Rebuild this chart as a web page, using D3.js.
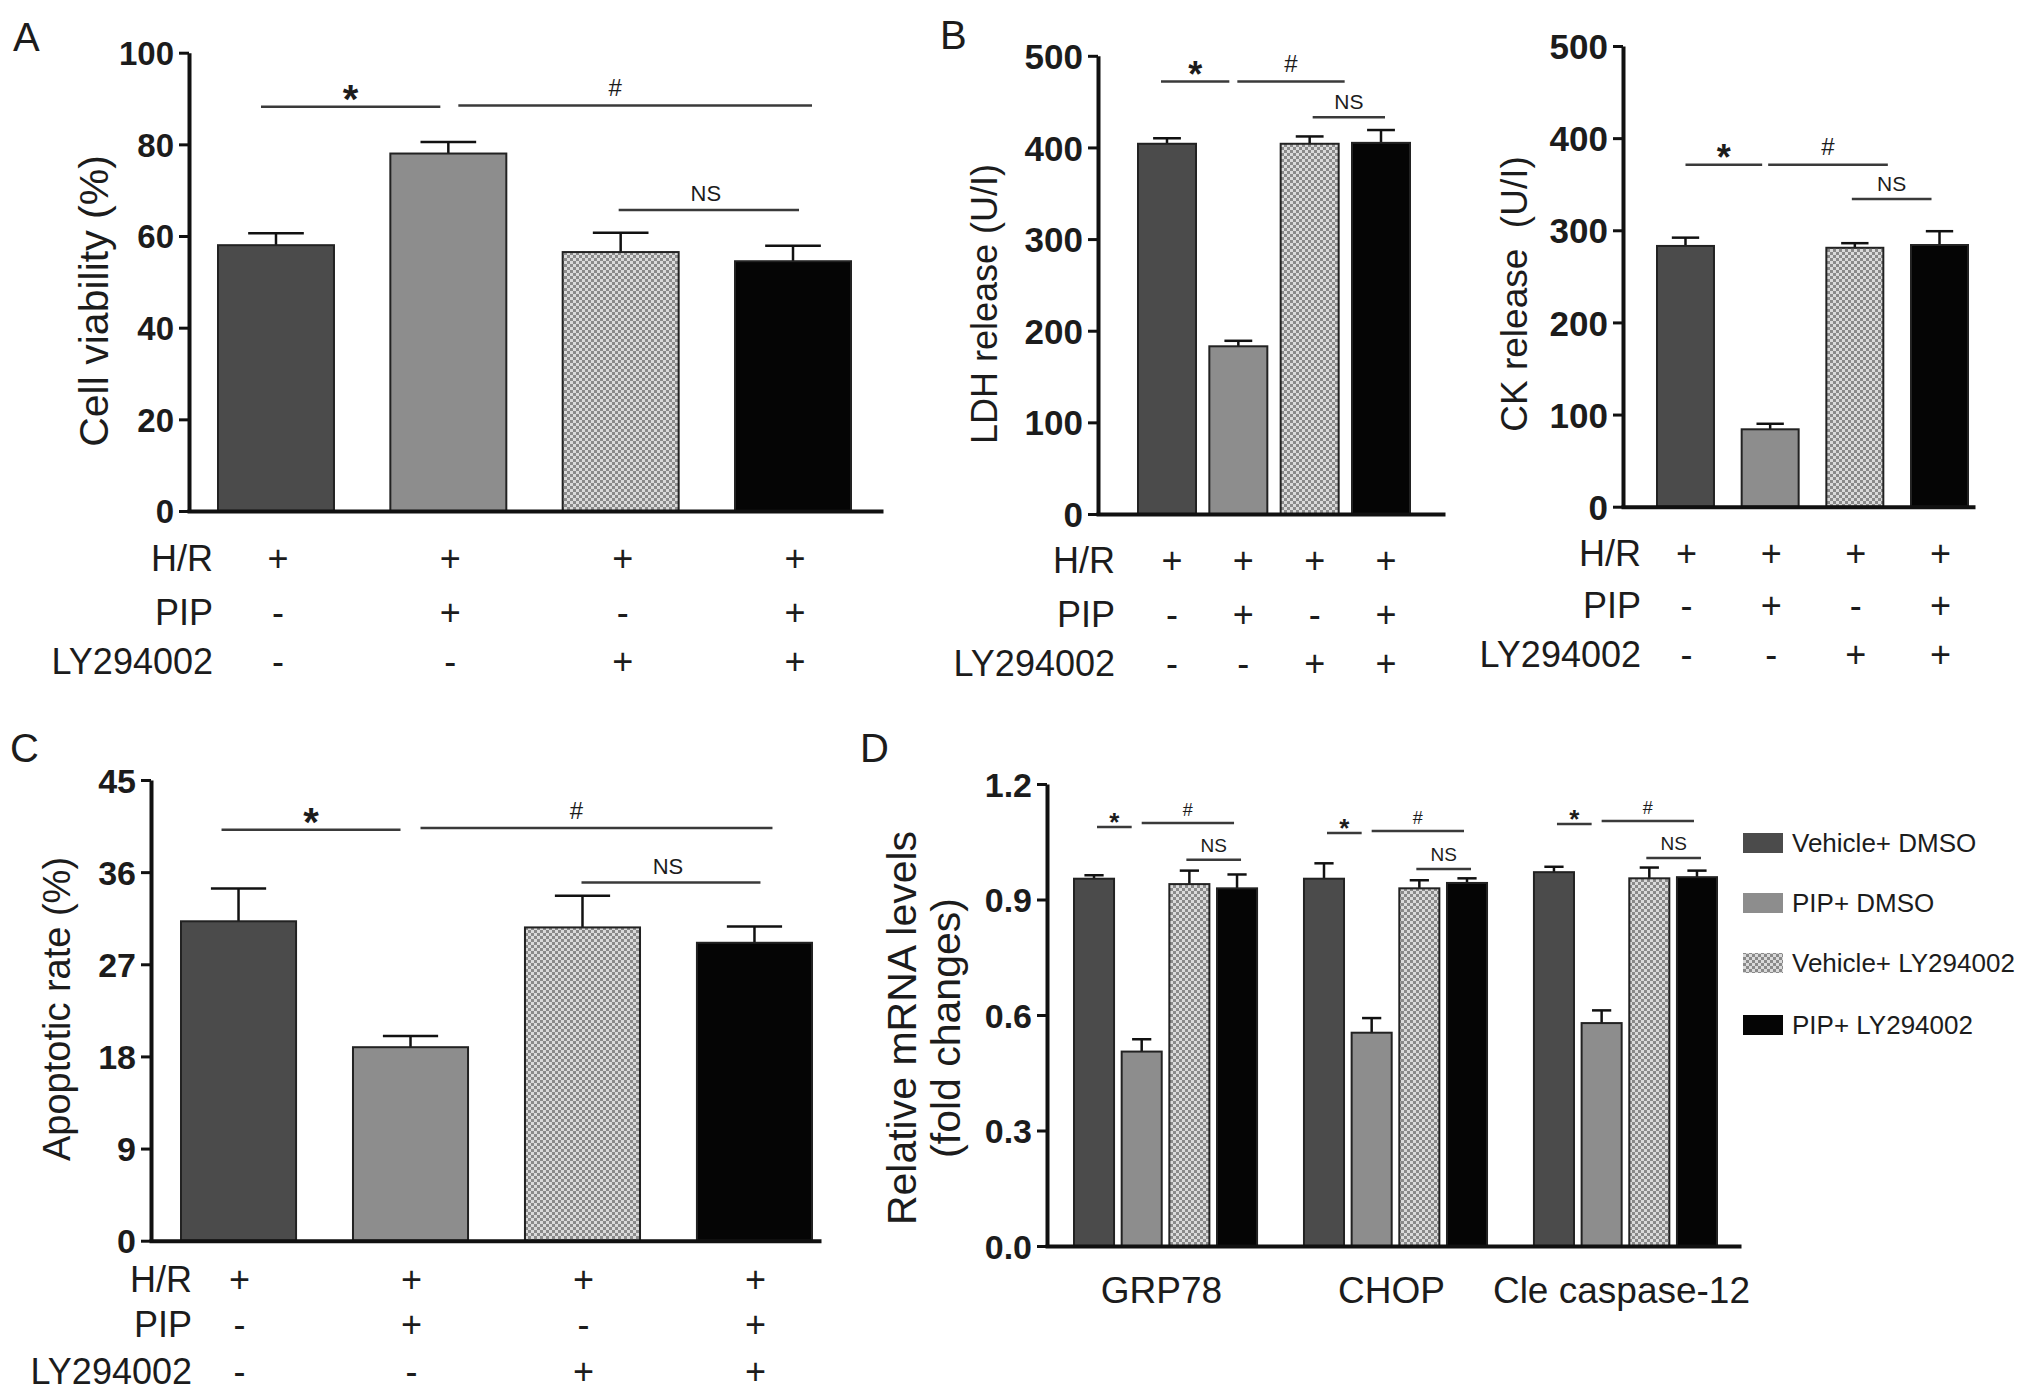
<!DOCTYPE html>
<html>
<head>
<meta charset="utf-8">
<script src="https://cdn.jsdelivr.net/npm/d3@7"></script>
<style>
  body { margin: 0; background: #fff; }
  svg { display: block; }
  text { font-family: "Liberation Sans", Arial, sans-serif; fill: #1c1c1c; }
</style>
</head>
<body>
<svg id="fig"></svg>
<script>
// treatment rows under panels A-C
const rowNames = ["H/R", "PIP", "LY294002"];
const hrSigns = ["+", "+", "+", "+"];
const pipSigns = ["-", "+", "-", "+"];
const lySigns = ["-", "-", "+", "+"];

// A: cell viability (%)
const viability = [58, 78, 56.5, 54.5];
const viabilityErr = [2.6, 2.5, 4.2, 3.4];
// B: LDH and CK release (U/l)
const ldh = [404, 183, 404, 405];
const ldhErr = [6, 6, 8, 14];
const ck = [283, 84, 281, 284];
const ckErr = [9, 6, 5, 15];
// C: apoptotic rate (%)
const apoptosis = [31.2, 18.9, 30.6, 29.1];
const apoptosisErr = [3.2, 1.1, 3.1, 1.6];

// D: relative mRNA levels
const genes = ["GRP78", "CHOP", "Cle caspase-12"];
const treatments = ["Vehicle+ DMSO", "PIP+ DMSO", "Vehicle+ LY294002", "PIP+ LY294002"];
const mrnaGRP78 = [0.954, 0.505, 0.940, 0.929];
const mrnaGRP78Err = [0.009, 0.032, 0.035, 0.036];
const mrnaCHOP = [0.954, 0.554, 0.929, 0.943];
const mrnaCHOPErr = [0.040, 0.038, 0.021, 0.012];
const mrnaCle = [0.971, 0.579, 0.955, 0.958];
const mrnaCleErr = [0.014, 0.033, 0.028, 0.017];

// significance marks: bar indices and height in data units
const sigA = [
  { from: 0, to: 1, y: 88.2, label: "*" },
  { from: 1, to: 3, y: 88.5, label: "#" },
  { from: 2, to: 3, y: 65.7, label: "NS" }
];
const sigLDH = [
  { from: 0, to: 1, y: 472, label: "*" },
  { from: 1, to: 2, y: 472, label: "#" },
  { from: 2, to: 3, y: 433, label: "NS" }
];
const sigCK = [
  { from: 0, to: 1, y: 371, label: "*" },
  { from: 1, to: 2, y: 371, label: "#" },
  { from: 2, to: 3, y: 334, label: "NS" }
];
const sigC = [
  { from: 0, to: 1, y: 40.15, label: "*" },
  { from: 1, to: 3, y: 40.3, label: "#" },
  { from: 2, to: 3, y: 35.0, label: "NS" }
];
const sigD = [
  [1.088, 1.099, 1.003],
  [1.073, 1.078, 0.979],
  [1.096, 1.104, 1.008]
];

const fills = ["#4b4b4b", "#8d8d8d", "url(#checker)", "#050505"];
const signRows = [hrSigns, pipSigns, lySigns];

const svg = d3.select("#fig").attr("width", 2031).attr("height", 1396);

const defs = svg.append("defs");
const pat = defs.append("pattern")
  .attr("id", "checker")
  .attr("patternUnits", "userSpaceOnUse")
  .attr("width", 6)
  .attr("height", 6);
pat.append("rect").attr("width", 6).attr("height", 6).attr("fill", "#dadada");
pat.append("rect").attr("width", 3).attr("height", 3).attr("fill", "#8a8a8a");
pat.append("rect").attr("x", 3).attr("y", 3).attr("width", 3).attr("height", 3).attr("fill", "#8a8a8a");

function styleAxis(sel, fontSize) {
  sel.attr("font-family", null).attr("font-size", null);
  sel.select(".domain").attr("stroke", "#111").attr("stroke-width", 4);
  sel.selectAll(".tick line").attr("stroke", "#111").attr("stroke-width", 3);
  sel.selectAll(".tick text")
    .attr("fill", "#111")
    .style("font-size", fontSize + "px")
    .style("font-weight", "bold")
    .attr("dy", "0.36em");
}

function drawAxes(g, cfg, y) {
  g.append("g")
    .attr("transform", `translate(0,${y(0)})`)
    .call(d3.axisBottom(d3.scaleLinear().range([cfg.axisX - 2, cfg.xEnd])).tickValues([]).tickSizeOuter(0))
    .call(s => styleAxis(s, cfg.tickFont));

  g.append("g")
    .attr("transform", `translate(${cfg.axisX},0)`)
    .call(d3.axisLeft(y).tickValues(cfg.ticks).tickSize(10).tickPadding(5).tickSizeOuter(0)
      .tickFormat(cfg.fmt || d3.format("d")))
    .call(s => styleAxis(s, cfg.tickFont));
}

function drawBars(g, data, errs, x, y, offset) {
  const bw = x.bandwidth();
  const idx = d3.range(data.length);
  g.append("g")
    .selectAll("line.err")
    .data(idx)
    .join("line")
    .attr("x1", i => offset + x(i) + bw / 2)
    .attr("x2", i => offset + x(i) + bw / 2)
    .attr("y1", i => y(data[i]))
    .attr("y2", i => y(data[i] + errs[i]))
    .attr("stroke", "#111")
    .attr("stroke-width", 2.5);
  g.append("g")
    .selectAll("line.cap")
    .data(idx)
    .join("line")
    .attr("x1", i => offset + x(i) + bw * 0.26)
    .attr("x2", i => offset + x(i) + bw * 0.74)
    .attr("y1", i => y(data[i] + errs[i]))
    .attr("y2", i => y(data[i] + errs[i]))
    .attr("stroke", "#111")
    .attr("stroke-width", 2.5);
  g.append("g")
    .selectAll("rect")
    .data(idx)
    .join("rect")
    .attr("x", i => offset + x(i))
    .attr("y", i => y(data[i]))
    .attr("width", bw)
    .attr("height", i => y(0) - y(data[i]))
    .attr("fill", i => fills[i])
    .attr("stroke", "#222")
    .attr("stroke-width", 2);
}

function drawSig(g, marks, centers, y, cfg) {
  marks.forEach((m, k) => {
    const x1 = centers[m.from] + cfg.sigDx[k][0];
    const x2 = centers[m.to] + cfg.sigDx[k][1];
    const ly = y(m.y);
    g.append("line")
      .attr("x1", x1).attr("x2", x2)
      .attr("y1", ly).attr("y2", ly)
      .attr("stroke", "#3a3a3a")
      .attr("stroke-width", 2.5);
    const fs = cfg.sigFont[m.label];
    const off = m.label === "*" ? 0.15 * fs : -0.4 * fs;
    g.append("text")
      .attr("x", (x1 + x2) / 2 + (cfg.labelDx ? cfg.labelDx[k] : 0))
      .attr("y", ly + off)
      .attr("text-anchor", "middle")
      .style("font-size", fs + "px")
      .style("font-weight", m.label === "*" ? "bold" : "normal")
      .text(m.label);
  });
}

function drawYLabel(g, lines, xs, cy, fs) {
  lines.forEach((t, i) => {
    g.append("text")
      .attr("transform", `translate(${xs[i]},${cy}) rotate(-90)`)
      .attr("text-anchor", "middle")
      .style("font-size", fs + "px")
      .style("white-space", "pre")
      .text(t);
  });
}

function drawPanel(cfg, data, errs, marks) {
  const g = svg.append("g");
  const y = d3.scaleLinear().domain(cfg.domain).range([cfg.yBottom, cfg.yTop]);
  const x = d3.scaleBand().domain(d3.range(data.length)).range(cfg.barRange)
    .paddingInner(cfg.pad).paddingOuter(0);
  const centers = d3.range(data.length).map(i => x(i) + x.bandwidth() / 2);

  drawBars(g, data, errs, x, y, 0);
  drawAxes(g, cfg, y);
  drawSig(g, marks, centers, y, cfg);
  drawYLabel(g, [cfg.yLabel], [cfg.yLabelX], cfg.yLabelY, cfg.yLabelFont);

  // treatment rows
  rowNames.forEach((name, r) => {
    g.append("text")
      .attr("x", cfg.rowRight)
      .attr("y", cfg.rowY[r] + 13)
      .attr("text-anchor", "end")
      .style("font-size", "36px")
      .text(name);
    g.append("g")
      .selectAll("text")
      .data(signRows[r])
      .join("text")
      .attr("x", (d, i) => centers[i] + cfg.signDx)
      .attr("y", cfg.rowY[r] + 13)
      .attr("text-anchor", "middle")
      .style("font-size", "36px")
      .text(d => d);
  });

  if (cfg.letter) {
    g.append("text")
      .attr("x", cfg.letter[1])
      .attr("y", cfg.letter[2])
      .style("font-size", "40px")
      .text(cfg.letter[0]);
  }
}

const bigSig = { "*": 40, "#": 24, "NS": 22 };

drawPanel({
  letter: ["A", 13, 51],
  axisX: 189, xEnd: 883, yTop: 52.7, yBottom: 511,
  domain: [0, 100], ticks: [0, 20, 40, 60, 80, 100], tickFont: 33,
  barRange: [218, 851], pad: 0.327,
  yLabel: "Cell viability (%)", yLabelX: 108, yLabelY: 301, yLabelFont: 41,
  rowRight: 213, rowY: [558, 612, 661], signDx: 2,
  sigDx: [[-15, -8], [10, 19], [-2, 6]], labelDx: [0, -20, -3], sigFont: bigSig
}, viability, viabilityErr, sigA);

drawPanel({
  letter: ["B", 940, 49],
  axisX: 1098, xEnd: 1445, yTop: 55.8, yBottom: 514,
  domain: [0, 500], ticks: [0, 100, 200, 300, 400, 500], tickFont: 35,
  barRange: [1138, 1410], pad: 0.187,
  yLabel: "LDH release (U/I)", yLabelX: 997, yLabelY: 304, yLabelFont: 36,
  rowRight: 1115, rowY: [560, 614, 663], signDx: 5,
  sigDx: [[-6, -9], [-1, 35], [3, 4]], sigFont: { "*": 36, "#": 24, "NS": 21 }
}, ldh, ldhErr, sigLDH);

drawPanel({
  axisX: 1623, xEnd: 1975, yTop: 46, yBottom: 506.7,
  domain: [0, 500], ticks: [0, 100, 200, 300, 400, 500], tickFont: 35,
  barRange: [1657, 1968], pad: 0.327,
  yLabel: "CK release  (U/I)", yLabelX: 1527, yLabelY: 294, yLabelFont: 37,
  rowRight: 1641, rowY: [553, 605, 654], signDx: 1,
  sigDx: [[0, -8], [-2, 33], [-3, -8]], sigFont: { "*": 36, "#": 24, "NS": 21 }
}, ck, ckErr, sigCK);

drawPanel({
  letter: ["C", 10, 762],
  axisX: 151, xEnd: 821, yTop: 780, yBottom: 1240.7,
  domain: [0, 45], ticks: [0, 9, 18, 27, 36, 45], tickFont: 34,
  barRange: [181, 812], pad: 0.331,
  yLabel: "Apoptotic rate (%)", yLabelX: 70, yLabelY: 1009, yLabelFont: 38,
  rowRight: 192, rowY: [1279, 1324, 1371], signDx: 1,
  sigDx: [[-17, -10], [10, 18], [-1, 6]], labelDx: [0, -20, -3], sigFont: bigSig
}, apoptosis, apoptosisErr, sigC);

// Panel D: grouped bars
(function () {
  const cfg = {
    axisX: 1047, xEnd: 1741, yTop: 784, yBottom: 1246,
    ticks: [0, 0.3, 0.6, 0.9, 1.2], tickFont: 34, fmt: d3.format(".1f"),
    sigDx: [[3, -10], [0, -3], [-3, 4]], sigFont: { "*": 26, "#": 18, "NS": 19 }
  };
  const g = svg.append("g");
  const y = d3.scaleLinear().domain([0, 1.2]).range([cfg.yBottom, cfg.yTop]);
  const x0 = d3.scaleBand().domain(genes).range([1074, 1717]).paddingInner(0.204).paddingOuter(0);
  const x1 = d3.scaleBand().domain(d3.range(4)).range([0, x0.bandwidth()]).paddingInner(0.16).paddingOuter(0);

  const values = [mrnaGRP78, mrnaCHOP, mrnaCle];
  const errors = [mrnaGRP78Err, mrnaCHOPErr, mrnaCleErr];
  genes.forEach((gene, k) => {
    drawBars(g, values[k], errors[k], x1, y, x0(gene));
    const centers = d3.range(4).map(i => x0(gene) + x1(i) + x1.bandwidth() / 2);
    const marks = [
      { from: 0, to: 1, y: sigD[k][0], label: "*" },
      { from: 1, to: 3, y: sigD[k][1], label: "#" },
      { from: 2, to: 3, y: sigD[k][2], label: "NS" }
    ];
    drawSig(g, marks, centers, y, cfg);
  });
  drawAxes(g, cfg, y);

  g.append("g")
    .selectAll("text")
    .data(genes)
    .join("text")
    .attr("x", d => x0(d) + x0.bandwidth() / 2 - 4)
    .attr("y", 1303)
    .attr("text-anchor", "middle")
    .style("font-size", "37px")
    .text(d => d);

  drawYLabel(g, ["Relative mRNA levels", "(fold changes)"], [916, 960], 1028, 41);

  g.append("text").attr("x", 860).attr("y", 762).style("font-size", "40px").text("D");

  // legend
  const rowsY = [843, 903, 963, 1025];
  const lg = g.append("g");
  lg.selectAll("rect")
    .data(treatments)
    .join("rect")
    .attr("x", 1743)
    .attr("y", (d, i) => rowsY[i] - 10)
    .attr("width", 40)
    .attr("height", 20)
    .attr("fill", (d, i) => fills[i]);
  lg.selectAll("text")
    .data(treatments)
    .join("text")
    .attr("x", 1792)
    .attr("y", (d, i) => rowsY[i] + 9)
    .style("font-size", "26px")
    .text(d => d);
})();
</script>
</body>
</html>
